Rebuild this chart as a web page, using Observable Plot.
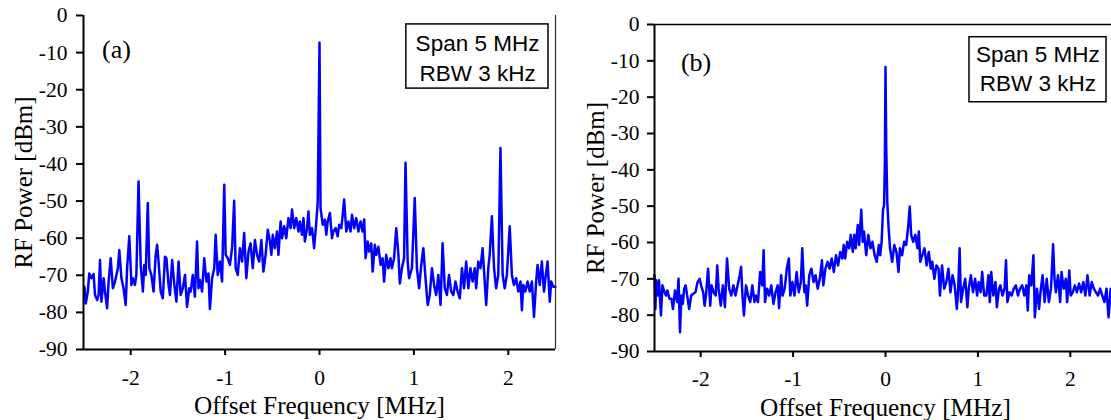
<!DOCTYPE html>
<html>
<head>
<meta charset="utf-8">
<script src="https://cdn.jsdelivr.net/npm/d3@7"></script>
<script src="https://cdn.jsdelivr.net/npm/@observablehq/plot@0.6"></script>
<style>
  html, body { margin: 0; padding: 0; background: #fff; overflow: hidden; }
  #wrap { position: relative; width: 1111px; height: 420px; overflow: hidden; background: #fff; }
  #wrap > div { position: absolute; top: 0; }
  #wrap svg { max-width: none !important; }
</style>
</head>
<body>
<div id="wrap"><div id="pa"></div><div id="pb"></div></div>
<script>
// ---- data (offset frequency in MHz, RF power in dBm) ----
const xTicks = [-2, -1, 0, 1, 2];
const yTicks = [0, -10, -20, -30, -40, -50, -60, -70, -80, -90];
const panelLabels = ["(a)", "(b)"];
const infoLines = ["Span 5 MHz", "RBW 3 kHz"];

const spectrumA = [[-2.49,-73.1],[-2.476,-77.6],[-2.454,-74.4],[-2.439,-69.5],[-2.416,-70.8],[-2.393,-69.7],[-2.378,-75.3],[-2.355,-76.7],[-2.34,-75.3],[-2.325,-65.9],[-2.31,-77.1],[-2.287,-70.8],[-2.272,-74.4],[-2.25,-78.9],[-2.234,-71.7],[-2.212,-65.4],[-2.189,-73.5],[-2.166,-71.7],[-2.136,-68.1],[-2.121,-63.2],[-2.098,-70.8],[-2.076,-73.5],[-2.053,-78.0],[-2.038,-68.1],[-2.015,-59.5],[-1.992,-72.6],[-1.977,-70.8],[-1.955,-72.6],[-1.94,-69.9],[-1.917,-44.7],[-1.894,-67.2],[-1.871,-74.4],[-1.856,-67.2],[-1.841,-69.9],[-1.819,-50.5],[-1.803,-68.1],[-1.781,-69.9],[-1.758,-74.4],[-1.735,-64.5],[-1.72,-61.8],[-1.705,-66.3],[-1.682,-74.4],[-1.66,-76.2],[-1.637,-65.0],[-1.622,-65.4],[-1.599,-72.6],[-1.584,-75.3],[-1.561,-65.9],[-1.539,-72.2],[-1.516,-77.1],[-1.493,-66.3],[-1.471,-75.3],[-1.448,-73.5],[-1.425,-69.9],[-1.403,-78.5],[-1.38,-73.5],[-1.365,-74.4],[-1.342,-69.9],[-1.32,-75.8],[-1.297,-60.9],[-1.282,-73.5],[-1.267,-71.3],[-1.244,-74.4],[-1.221,-65.4],[-1.198,-71.7],[-1.176,-69.5],[-1.161,-79.1],[-1.138,-70.8],[-1.115,-68.1],[-1.1,-59.1],[-1.078,-69.9],[-1.055,-66.3],[-1.032,-71.7],[-1.009,-45.6],[-0.994,-64.5],[-0.972,-65.4],[-0.949,-67.2],[-0.926,-62.7],[-0.904,-49.9],[-0.888,-68.1],[-0.866,-69.9],[-0.843,-62.7],[-0.82,-66.3],[-0.798,-58.6],[-0.775,-70.8],[-0.752,-63.6],[-0.73,-61.4],[-0.707,-68.1],[-0.684,-60.5],[-0.662,-64.5],[-0.639,-66.3],[-0.616,-60.5],[-0.594,-69.0],[-0.571,-64.5],[-0.548,-57.7],[-0.525,-60.9],[-0.51,-64.5],[-0.495,-59.1],[-0.473,-62.7],[-0.45,-58.2],[-0.435,-64.5],[-0.412,-55.5],[-0.397,-60.0],[-0.374,-56.8],[-0.352,-60.0],[-0.329,-54.6],[-0.306,-57.3],[-0.291,-52.3],[-0.268,-57.3],[-0.246,-54.6],[-0.223,-58.2],[-0.208,-55.5],[-0.185,-59.1],[-0.17,-54.6],[-0.155,-60.9],[-0.132,-57.3],[-0.117,-52.8],[-0.102,-59.1],[-0.079,-57.3],[-0.057,-62.7],[-0.042,-58.2],[-0.019,-50.5],[0,-7.3],[0.011,-51.9],[0.034,-56.4],[0.057,-55.0],[0.072,-59.1],[0.087,-55.5],[0.11,-53.2],[0.132,-60.0],[0.147,-58.2],[0.17,-57.3],[0.193,-59.5],[0.208,-56.4],[0.231,-57.3],[0.246,-53.7],[0.261,-49.6],[0.284,-58.2],[0.306,-55.5],[0.329,-58.2],[0.344,-53.7],[0.367,-57.3],[0.389,-54.6],[0.412,-58.2],[0.435,-55.5],[0.457,-58.2],[0.473,-55.0],[0.488,-65.4],[0.51,-60.9],[0.526,-63.6],[0.548,-61.4],[0.563,-69.0],[0.586,-61.8],[0.601,-64.5],[0.624,-62.3],[0.647,-67.2],[0.669,-65.4],[0.684,-71.7],[0.707,-64.5],[0.73,-68.1],[0.752,-65.4],[0.767,-68.1],[0.79,-65.4],[0.813,-57.3],[0.836,-64.5],[0.851,-72.2],[0.873,-68.1],[0.896,-65.4],[0.911,-39.7],[0.934,-66.3],[0.949,-70.8],[0.979,-68.1],[1.009,-49.2],[1.032,-68.1],[1.055,-73.5],[1.078,-67.2],[1.1,-62.7],[1.123,-70.8],[1.146,-78.0],[1.168,-75.3],[1.191,-68.1],[1.214,-72.6],[1.236,-75.3],[1.259,-69.9],[1.282,-78.0],[1.304,-61.4],[1.327,-73.5],[1.35,-75.3],[1.372,-69.9],[1.395,-74.4],[1.418,-75.3],[1.44,-71.7],[1.463,-74.4],[1.486,-76.2],[1.509,-68.1],[1.531,-73.5],[1.554,-66.3],[1.577,-73.5],[1.599,-68.1],[1.622,-71.7],[1.645,-68.1],[1.66,-73.5],[1.682,-66.3],[1.705,-68.1],[1.728,-62.7],[1.75,-71.7],[1.766,-78.0],[1.788,-68.1],[1.803,-64.5],[1.826,-54.1],[1.849,-68.1],[1.871,-73.5],[1.894,-69.9],[1.917,-35.7],[1.94,-69.9],[1.962,-73.5],[1.985,-69.9],[2.015,-56.8],[2.038,-69.9],[2.06,-72.6],[2.083,-70.8],[2.106,-74.4],[2.129,-71.7],[2.144,-79.4],[2.159,-72.6],[2.181,-74.4],[2.204,-71.7],[2.227,-74.4],[2.25,-71.7],[2.272,-81.2],[2.295,-71.7],[2.31,-67.2],[2.333,-72.6],[2.355,-66.3],[2.378,-74.4],[2.393,-70.8],[2.416,-66.3],[2.439,-77.1],[2.454,-71.7],[2.476,-73.1],[2.5,-73.1]];

const spectrumB = [[-2.5,-69.0],[-2.49,-78.3],[-2.483,-70.4],[-2.468,-74.6],[-2.452,-70.4],[-2.43,-80.1],[-2.414,-71.8],[-2.392,-73.7],[-2.376,-74.6],[-2.361,-73.2],[-2.338,-75.5],[-2.316,-75.5],[-2.3,-78.3],[-2.278,-73.2],[-2.255,-76.4],[-2.24,-70.0],[-2.224,-84.7],[-2.209,-74.6],[-2.194,-76.9],[-2.179,-72.7],[-2.163,-71.8],[-2.141,-75.5],[-2.125,-78.3],[-2.103,-74.6],[-2.08,-74.1],[-2.057,-73.7],[-2.034,-70.9],[-2.011,-70.0],[-1.996,-71.8],[-1.973,-73.7],[-1.958,-77.4],[-1.943,-74.6],[-1.92,-67.2],[-1.897,-77.4],[-1.882,-71.8],[-1.859,-73.7],[-1.837,-74.6],[-1.821,-66.3],[-1.806,-72.7],[-1.783,-77.4],[-1.76,-71.8],[-1.738,-77.8],[-1.715,-64.4],[-1.692,-72.7],[-1.669,-74.6],[-1.646,-71.8],[-1.624,-74.6],[-1.601,-71.8],[-1.578,-69.0],[-1.563,-66.7],[-1.548,-74.6],[-1.532,-80.1],[-1.51,-71.8],[-1.487,-74.6],[-1.464,-76.4],[-1.441,-71.8],[-1.418,-76.4],[-1.403,-74.6],[-1.38,-76.4],[-1.357,-68.1],[-1.335,-71.8],[-1.319,-62.1],[-1.304,-76.4],[-1.281,-72.7],[-1.259,-74.6],[-1.236,-71.8],[-1.213,-76.9],[-1.19,-73.7],[-1.167,-71.8],[-1.152,-78.1],[-1.129,-69.0],[-1.114,-74.6],[-1.091,-72.7],[-1.068,-67.2],[-1.046,-64.4],[-1.03,-74.6],[-1.008,-70.9],[-0.985,-74.6],[-0.962,-68.1],[-0.939,-73.7],[-0.916,-70.9],[-0.901,-61.6],[-0.878,-73.7],[-0.863,-71.8],[-0.848,-77.4],[-0.825,-69.0],[-0.802,-67.2],[-0.779,-70.9],[-0.757,-69.0],[-0.734,-72.7],[-0.711,-70.0],[-0.688,-64.9],[-0.673,-71.8],[-0.65,-67.2],[-0.627,-65.3],[-0.605,-67.2],[-0.582,-64.4],[-0.559,-68.1],[-0.536,-63.5],[-0.513,-66.3],[-0.49,-62.6],[-0.468,-64.4],[-0.452,-60.7],[-0.437,-64.4],[-0.414,-59.8],[-0.392,-61.6],[-0.376,-57.9],[-0.354,-62.6],[-0.338,-57.9],[-0.323,-61.6],[-0.3,-55.2],[-0.285,-60.7],[-0.262,-51.0],[-0.247,-59.8],[-0.232,-57.0],[-0.209,-63.5],[-0.186,-57.9],[-0.163,-61.6],[-0.141,-59.8],[-0.118,-63.5],[-0.095,-65.3],[-0.072,-60.7],[-0.057,-63.5],[-0.042,-59.8],[-0.027,-51.0],[-0.015,-49.6],[-0.007,-38.0],[0,-11.7],[0.008,-34.0],[0.019,-48.7],[0.034,-56.1],[0.049,-61.6],[0.072,-65.3],[0.095,-60.7],[0.118,-62.6],[0.141,-68.1],[0.156,-61.6],[0.179,-63.5],[0.202,-59.8],[0.224,-60.7],[0.247,-55.2],[0.262,-50.1],[0.278,-57.9],[0.3,-59.8],[0.323,-57.9],[0.346,-61.6],[0.361,-57.0],[0.376,-65.3],[0.399,-63.5],[0.422,-61.6],[0.445,-66.3],[0.468,-62.6],[0.49,-67.2],[0.506,-65.3],[0.529,-70.0],[0.551,-66.3],[0.574,-67.2],[0.589,-74.6],[0.612,-66.3],[0.635,-72.7],[0.658,-70.9],[0.681,-67.2],[0.703,-73.7],[0.726,-69.0],[0.749,-71.8],[0.772,-78.3],[0.787,-72.7],[0.802,-61.6],[0.817,-76.4],[0.84,-72.7],[0.863,-70.0],[0.886,-77.8],[0.901,-72.7],[0.924,-69.0],[0.947,-73.7],[0.97,-70.0],[0.992,-74.6],[1.008,-70.9],[1.03,-73.7],[1.046,-68.1],[1.068,-74.6],[1.091,-74.6],[1.114,-69.0],[1.129,-76.4],[1.144,-68.1],[1.167,-74.6],[1.19,-70.9],[1.205,-77.8],[1.228,-72.7],[1.243,-71.8],[1.266,-74.6],[1.289,-72.7],[1.304,-64.9],[1.319,-76.4],[1.342,-73.7],[1.365,-74.6],[1.388,-72.7],[1.411,-71.8],[1.433,-74.6],[1.456,-72.7],[1.479,-71.8],[1.502,-74.6],[1.525,-71.8],[1.54,-78.7],[1.555,-69.0],[1.578,-71.8],[1.601,-63.5],[1.616,-80.6],[1.639,-72.7],[1.662,-78.3],[1.677,-73.7],[1.7,-69.0],[1.722,-76.4],[1.745,-70.0],[1.768,-76.4],[1.791,-72.7],[1.814,-60.5],[1.829,-70.0],[1.844,-73.7],[1.867,-69.0],[1.89,-76.4],[1.905,-68.1],[1.928,-72.7],[1.951,-70.0],[1.966,-76.4],[1.989,-67.7],[2.004,-74.6],[2.027,-73.7],[2.049,-71.8],[2.072,-73.7],[2.095,-71.3],[2.118,-73.7],[2.141,-70.9],[2.163,-74.6],[2.186,-69.0],[2.209,-74.6],[2.232,-70.9],[2.255,-72.7],[2.278,-73.7],[2.3,-74.6],[2.323,-72.7],[2.346,-74.6],[2.369,-76.4],[2.392,-72.7],[2.414,-80.6],[2.437,-72.7],[2.46,-74.0],[2.5,-73.0]];

// ---- drawing ----
const SERIF = "Liberation Serif";
const SANS = "Liberation Sans";
const fmt = d => String(d);
const blank = () => "";

function panel(data, o) {
  const marks = [
    Plot.rect([o.box], {x1: "x1", x2: "x2", y1: "y1", y2: "y2", fill: "white", stroke: "#000", strokeWidth: 1.5}),
    Plot.text(infoLines, {x: o.box.tx, y: (d, i) => o.box.ty[i], text: d => d, fontFamily: SANS, fontSize: 22.5, fill: "#000"}),
    Plot.text([o.label], {x: o.labelPos[0], y: o.labelPos[1], fontFamily: SERIF, fontSize: 26, fill: "#000"}),
    Plot.line(data, {x: d => d[0], y: d => d[1], stroke: "#0000ff", strokeWidth: 2.5, strokeLinejoin: "round"}),
    Plot.ruleX([-2.5], {stroke: "#000", strokeWidth: 2}),
    Plot.ruleY([-90], {stroke: "#000", strokeWidth: 2}),
    // tick marks from the axes, tick labels as serif text marks
    Plot.axisX({ticks: xTicks, tickFormat: blank, tickSize: 6, strokeWidth: 2, label: null}),
    Plot.axisY({ticks: yTicks, tickFormat: blank, tickSize: 7, strokeWidth: 2, label: null}),
    Plot.text(xTicks, {x: d => d, text: fmt, frameAnchor: "bottom", dy: o.xLabDy, textAnchor: "middle", lineAnchor: "middle", fontFamily: SERIF, fontSize: 21.5, fill: "#000"}),
    Plot.text(yTicks, {y: d => d, text: fmt, frameAnchor: "left", dx: o.yLabDx, textAnchor: "end", lineAnchor: "middle", fontFamily: SERIF, fontSize: 21.5, fill: "#000"}),
    Plot.text(["Offset Frequency [MHz]"], {frameAnchor: "bottom", dy: o.xTitleDy, textAnchor: "middle", lineAnchor: "middle", fontSize: 25.3, fontFamily: SERIF, fill: "#000"}),
    Plot.text(["RF Power [dBm]"], {frameAnchor: "left", rotate: -90, dx: o.yTitleDx, textAnchor: "middle", lineAnchor: "middle", fontSize: 25, fontFamily: SERIF, fill: "#000"})
  ];
  if (o.rightLine) marks.push(Plot.ruleX([2.5], {stroke: "#333", strokeWidth: 1.2}));
  if (o.topLine) marks.push(Plot.ruleY([0], {x1: -2.5, x2: 2.5, stroke: "#000", strokeWidth: 1.5}));
  return Plot.plot({
    width: o.width, height: 420,
    marginLeft: o.ml, marginRight: o.mr, marginTop: o.mt, marginBottom: o.mb,
    x: {domain: [-2.5, 2.5], axis: null},
    y: {domain: [-90, 0], axis: null},
    style: {background: "transparent", overflow: "visible"},
    marks
  });
}

const pa = panel(spectrumA, {
  width: 560, ml: 83, mr: 5, mt: 15, mb: 71,
  label: panelLabels[0], labelPos: [-2.15, -9.2],
  box: {x1: 0.92, x2: 2.426, y1: -2.4, y2: -19.7, tx: 1.674, ty: [-7.7, -15.6]},
  xLabDy: 29, yLabDx: -16,
  xTitleDy: 56, yTitleDx: -60, rightLine: true, topLine: false
});
const pb = panel(spectrumB, {
  width: 561, ml: 94, mr: 5, mt: 24, mb: 69,
  label: panelLabels[1], labelPos: [-2.05, -10.6],
  box: {x1: 0.909, x2: 2.392, y1: -3.5, y2: -21.4, tx: 1.65, ty: [-8.4, -16.4]},
  xLabDy: 28, yLabDx: -15,
  xTitleDy: 56, yTitleDx: -59, rightLine: false, topLine: true
});
const da = document.getElementById("pa"), db = document.getElementById("pb");
da.style.left = "0px"; da.style.width = "560px";
db.style.left = "560px"; db.style.width = "561px";
da.appendChild(pa);
db.appendChild(pb);
</script>
</body>
</html>
